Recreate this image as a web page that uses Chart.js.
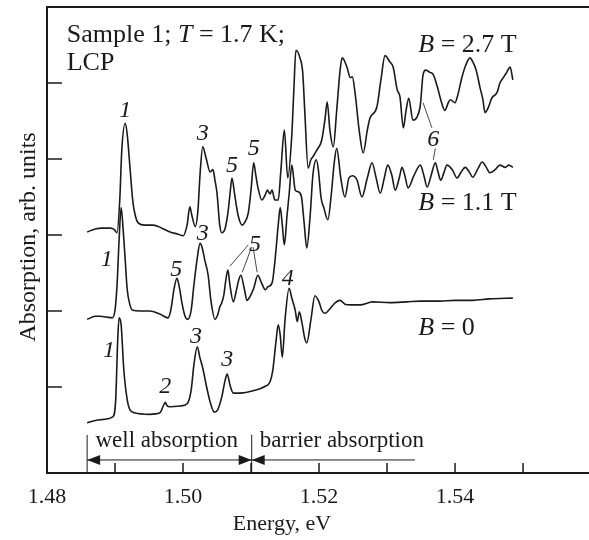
<!DOCTYPE html>
<html>
<head>
<meta charset="utf-8">
<script src="https://cdn.jsdelivr.net/npm/chart.js@4.4.0/dist/chart.umd.min.js"></script>
<style>
  html,body{margin:0;padding:0;background:#fff}
</style>
</head>
<body>
<canvas id="absChart" width="589" height="540"></canvas>
<script>
// B = 2.7 T
const energyTop = [1.4859,1.4871,1.4881,1.4893,1.4899,1.4903,1.4907,1.4910,1.4915,1.4918,1.4922,1.4926,1.4929,1.4934,1.4944,1.4956,1.4969,1.4981,1.4993,1.5000,
  1.5006,1.5010,1.5013,1.5018,1.5022,1.5025,1.5029,1.5034,1.5040,1.5044,1.5047,1.5050,1.5054,1.5057,1.5062,1.5066,1.5069,1.5072,1.5076,1.5081,
  1.5087,1.5091,1.5096,1.5100,1.5104,1.5107,1.5110,1.5116,1.5121,1.5124,1.5128,1.5131,1.5135,1.5140,1.5144,1.5149,1.5154,1.5160,1.5163,1.5166,
  1.5172,1.5176,1.5179,1.5184,1.5188,1.5191,1.5197,1.5204,1.5209,1.5212,1.5216,1.5221,1.5226,1.5231,1.5234,1.5241,1.5246,1.5249,1.5253,1.5259,
  1.5265,1.5271,1.5275,1.5285,1.5291,1.5297,1.5304,1.5309,1.5315,1.5319,1.5324,1.5328,1.5332,1.5338,1.5344,1.5349,1.5353,1.5357,1.5363,1.5368,
  1.5374,1.5379,1.5385,1.5390,1.5393,1.5400,1.5404,1.5410,1.5416,1.5422,1.5426,1.5431,1.5437,1.5441,1.5444,1.5449,1.5454,1.5462,1.5466,1.5471,
  1.5476,1.5481,1.5485];
const absTop = [3.04,3.08,3.09,3.09,3.07,3.03,3.46,4.12,4.47,4.32,3.89,3.46,3.29,3.16,3.13,3.13,3.09,3.04,3.01,2.99,
  3.13,3.37,3.26,3.11,3.33,3.79,4.16,4.01,3.83,3.86,3.72,3.55,3.13,3.03,3.09,3.29,3.53,3.75,3.53,3.26,
  3.13,3.17,3.29,3.59,3.95,3.79,3.63,3.46,3.53,3.59,3.54,3.59,3.46,3.46,3.86,4.38,3.75,4.32,4.91,5.43,
  5.33,5.14,4.64,3.88,3.99,4.03,4.12,4.25,4.54,4.75,4.38,4.16,4.64,5.17,5.33,5.21,5.07,5.08,4.87,4.38,
  4.08,4.38,4.54,4.68,5.04,5.36,5.28,5.21,4.91,4.82,4.41,4.64,4.80,4.51,4.55,4.71,5.11,5.17,5.14,5.11,
  4.95,4.78,4.64,4.74,4.78,4.74,4.84,5.07,5.24,5.33,5.28,5.17,4.93,4.78,4.61,4.68,4.80,4.88,5.00,5.07,
  5.14,5.21,5.04];

// B = 1.1 T
const energyMid = [1.4859,1.4871,1.4878,1.4887,1.4896,1.4900,1.4903,1.4906,1.4909,1.4912,1.4915,1.4918,1.4922,1.4926,1.4937,1.4951,1.4966,1.4978,1.4982,1.4987,
  1.4991,1.4994,1.4999,1.5003,1.5007,1.5012,1.5016,1.5021,1.5025,1.5028,1.5032,1.5037,1.5041,1.5047,1.5051,1.5054,1.5057,1.5060,1.5063,1.5066,
  1.5069,1.5074,1.5078,1.5082,1.5085,1.5090,1.5094,1.5099,1.5104,1.5110,1.5115,1.5121,1.5125,1.5131,1.5135,1.5140,1.5143,1.5146,1.5149,1.5153,
  1.5156,1.5160,1.5165,1.5169,1.5174,1.5178,1.5182,1.5187,1.5191,1.5196,1.5199,1.5203,1.5207,1.5213,1.5218,1.5222,1.5226,1.5232,1.5238,1.5244,
  1.5249,1.5256,1.5263,1.5271,1.5278,1.5284,1.5290,1.5296,1.5301,1.5307,1.5312,1.5318,1.5322,1.5326,1.5331,1.5340,1.5349,1.5354,1.5359,1.5365,
  1.5371,1.5375,1.5379,1.5384,1.5388,1.5396,1.5403,1.5409,1.5415,1.5421,1.5426,1.5434,1.5440,1.5446,1.5451,1.5459,1.5466,1.5474,1.5479,1.5485];
const absMid = [1.89,1.93,1.93,1.92,1.91,2.01,2.34,2.93,3.36,3.07,2.67,2.28,2.08,2.01,2.00,2.00,1.96,1.91,2.01,2.30,
  2.43,2.34,2.08,1.93,1.89,2.01,2.34,2.70,2.89,2.84,2.67,2.47,2.14,1.89,1.95,2.05,2.11,2.21,2.41,2.54,
  2.34,2.12,2.25,2.41,2.47,2.30,2.14,2.20,2.30,2.47,2.38,2.28,2.32,2.37,2.64,3.13,3.36,3.13,2.87,3.26,
  3.53,3.92,3.59,3.57,3.51,3.17,2.83,3.26,3.79,3.99,3.86,3.49,3.36,3.20,3.53,3.92,4.14,3.75,3.50,3.75,
  3.78,3.72,3.50,3.75,3.95,3.75,3.55,3.75,3.92,3.79,3.59,3.75,3.89,3.79,3.62,3.79,3.92,3.79,3.63,3.79,
  3.95,3.83,3.72,3.83,3.92,3.86,3.75,3.83,3.89,3.83,3.76,3.88,3.96,3.89,3.82,3.86,3.92,3.89,3.92,3.89];

// B = 0
const energyZero = [1.4859,1.4878,1.4897,1.4901,1.4904,1.4906,1.4909,1.4913,1.4918,1.4922,1.4929,1.4951,1.4966,1.4971,1.4974,1.4976,1.4981,1.4996,1.5006,1.5012,
  1.5016,1.5021,1.5025,1.5029,1.5034,1.5040,1.5046,1.5051,1.5057,1.5062,1.5065,1.5069,1.5074,1.5084,1.5103,1.5121,1.5128,1.5132,1.5137,1.5140,
  1.5143,1.5146,1.5150,1.5156,1.5160,1.5165,1.5168,1.5171,1.5175,1.5179,1.5182,1.5188,1.5194,1.5200,1.5204,1.5209,1.5216,1.5224,1.5231,1.5238,
  1.5246,1.5260,1.5279,1.5304,1.5329,1.5349,1.5378,1.5400,1.5426,1.5451,1.5485];
const absZero = [0.53,0.57,0.61,0.83,1.62,1.91,1.82,1.22,0.83,0.70,0.66,0.64,0.66,0.75,0.80,0.76,0.74,0.75,0.78,0.96,
  1.29,1.53,1.38,1.25,1.03,0.80,0.67,0.70,0.87,1.09,1.17,1.03,0.92,0.92,0.95,1.01,1.07,1.22,1.62,1.82,
  1.68,1.39,1.88,2.30,2.17,2.01,1.86,1.99,1.84,1.64,1.58,1.88,2.20,2.12,2.01,1.97,2.03,2.11,2.14,2.09,
  2.08,2.08,2.12,2.11,2.12,2.13,2.13,2.14,2.14,2.16,2.17];

const xMajor = [1.48,1.50,1.52,1.54];
const xMinor = [1.49,1.51,1.53,1.55];
const xLabels = ["1.48","1.50","1.52","1.54"];
const yTicks = [1,2,3,4,5];

// peak numbers: [text, energy, absorption]
const peakNames = [
  ["1",1.4915,4.55],["3",1.5029,4.25],["5",1.5072,3.83],["5",1.5104,4.05],
  ["1",1.4888,2.59],["5",1.4990,2.46],["3",1.5029,2.93],["5",1.5106,2.79],
  ["1",1.4891,1.39],["2",1.4974,0.92],["3",1.5019,1.58],["3",1.5065,1.28],["4",1.5154,2.34],
  ["6",1.5368,4.17]
];
const leaders = [
  [1.5096,2.87,1.5069,2.59],[1.5101,2.84,1.5087,2.51],[1.5103,2.84,1.5109,2.51],
  [1.5353,4.74,1.5366,4.41],[1.5371,4.14,1.5368,3.99]
];

function toPts(xs, ys){ return xs.map((x,i)=>({x:x, y:ys[i]})); }

const FONT = "'Liberation Serif', 'Times New Roman', serif";

function richText(ctx, x, y, parts, size){
  let cx = x;
  parts.forEach(p=>{
    ctx.font = (p[1] ? "italic " : "") + size + "px " + FONT;
    ctx.fillText(p[0], cx, y);
    cx += ctx.measureText(p[0]).width;
  });
}

function arrowHead(ctx, x, y, dir){
  ctx.beginPath();
  ctx.moveTo(x, y);
  ctx.lineTo(x + dir*13, y - 5);
  ctx.lineTo(x + dir*13, y + 5);
  ctx.closePath();
  ctx.fill();
}

const decor = {
  id:'decor',
  afterDraw(chart){
    const ctx = chart.ctx;
    const a = chart.chartArea;
    const sx = chart.scales.x, sy = chart.scales.y;
    const X = v=>sx.getPixelForValue(v), Y = v=>sy.getPixelForValue(v);
    ctx.save();
    ctx.strokeStyle = "#1a1a1a";
    ctx.fillStyle = "#1a1a1a";

    // frame
    ctx.lineWidth = 2;
    ctx.beginPath();
    ctx.moveTo(a.right+2, a.top);
    ctx.lineTo(a.left, a.top);
    ctx.lineTo(a.left, a.bottom);
    ctx.lineTo(a.right+2, a.bottom);
    ctx.stroke();

    // inward ticks
    ctx.lineWidth = 1.5;
    xMajor.concat(xMinor).forEach(v=>{
      ctx.beginPath();
      ctx.moveTo(X(v), a.bottom);
      ctx.lineTo(X(v), a.bottom - 10);
      ctx.stroke();
    });
    yTicks.forEach(v=>{
      ctx.beginPath();
      ctx.moveTo(a.left, Y(v));
      ctx.lineTo(a.left + 15, Y(v));
      ctx.stroke();
    });

    // tick labels and titles
    ctx.textBaseline = "alphabetic";
    ctx.textAlign = "center";
    ctx.font = "22px " + FONT;
    xMajor.forEach((v,i)=>ctx.fillText(xLabels[i], X(v), a.bottom + 30));
    ctx.fillText("Energy, eV", (X(1.51)+X(1.52))/2 - 3, a.bottom + 57);
    ctx.save();
    ctx.translate(35, 237);
    ctx.rotate(-Math.PI/2);
    ctx.font = "24px " + FONT;
    ctx.fillText("Absorption, arb. units", 0, 0);
    ctx.restore();

    // peak numbers
    ctx.font = "italic 24px " + FONT;
    peakNames.forEach(p=>ctx.fillText(p[0], X(p[1]), Y(p[2])));
    ctx.lineWidth = 0.8;
    leaders.forEach(l=>{
      ctx.beginPath();
      ctx.moveTo(X(l[0]), Y(l[1]));
      ctx.lineTo(X(l[2]), Y(l[3]));
      ctx.stroke();
    });

    // curve captions
    ctx.textAlign = "left";
    richText(ctx, X(1.4829), Y(5.54), [["Sample 1; ",0],["T",1],[" = 1.7 K;",0]], 26);
    richText(ctx, X(1.4829), Y(5.17), [["LCP",0]], 26);
    richText(ctx, X(1.5346), Y(5.41), [["B",1],[" = 2.7 T",0]], 26);
    richText(ctx, X(1.5346), Y(3.33), [["B",1],[" = 1.1 T",0]], 26);
    richText(ctx, X(1.5346), Y(1.68), [["B",1],[" = 0",0]], 26);

    // well / barrier region marks
    ctx.lineWidth = 1;
    [1.4859, 1.5101].forEach(e=>{
      ctx.beginPath();
      ctx.moveTo(X(e), Y(0.37));
      ctx.lineTo(X(e), a.bottom);
      ctx.stroke();
    });
    const ay = Y(0.04);
    ctx.beginPath();
    ctx.moveTo(X(1.4859), ay);
    ctx.lineTo(X(1.5341), ay);
    ctx.stroke();
    arrowHead(ctx, X(1.4859), ay, 1);
    arrowHead(ctx, X(1.5101), ay, -1);
    arrowHead(ctx, X(1.5101), ay, 1);
    ctx.font = "23px " + FONT;
    ctx.textAlign = "center";
    ctx.fillText("well absorption", X(1.4976), Y(0.21));
    ctx.textAlign = "left";
    ctx.fillText("barrier absorption", X(1.5113), Y(0.21));
    ctx.restore();
  }
};

const lineStyle = {borderColor:'#1a1a1a', borderWidth:1.6, pointRadius:0, showLine:true,
  cubicInterpolationMode:'monotone', fill:false};

const ctx = document.getElementById("absChart").getContext("2d");
const chart = new Chart(ctx,{
  type:'scatter',
  data:{
    datasets:[
      Object.assign({label:'B = 2.7 T', data:toPts(energyTop, absTop)}, lineStyle),
      Object.assign({label:'B = 1.1 T', data:toPts(energyMid, absMid)}, lineStyle),
      Object.assign({label:'B = 0', data:toPts(energyZero, absZero)}, lineStyle)
    ]
  },
  options:{
    responsive:false,
    animation:false,
    devicePixelRatio:1,
    layout:{padding:{left:47, top:7, right:0, bottom:67}},
    plugins:{legend:{display:false}, tooltip:{enabled:false}},
    scales:{
      x:{type:'linear', display:false, min:1.48, max:1.5597},
      y:{type:'linear', display:false, min:-0.1316, max:6.0}
    }
  },
  plugins:[decor]
});
</script>
</body>
</html>
